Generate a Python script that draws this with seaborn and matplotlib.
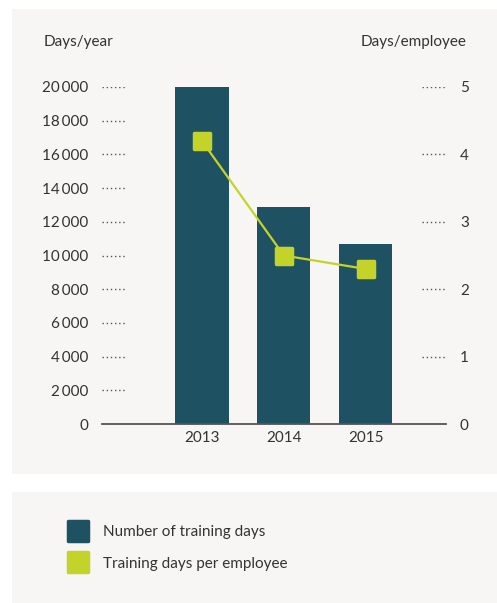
import matplotlib
matplotlib.use("Agg")
import matplotlib.pyplot as plt
from matplotlib.patches import Rectangle
from matplotlib.lines import Line2D
from matplotlib.markers import MarkerStyle
import seaborn as sns

# data
years = ["2013", "2014", "2015"]
training_days = [20000, 12900, 10700]
days_per_employee = [4.2, 2.5, 2.3]
left_ticks = [0, 2000, 4000, 6000, 8000, 10000, 12000, 14000, 16000, 18000, 20000]
right_ticks = [0, 1, 2, 3, 4, 5]
legend_labels = ["Number of training days", "Training days per employee"]

navy = "#1E5262"
lime = "#C3D32A"
panel = "#F7F6F4"
text_c = "#333333"
axis_c = "#555555"

sns.set_theme(style="white")
plt.rcParams["font.family"] = ["Lato", "DejaVu Sans"]

W, H = 497, 603
fig = plt.figure(figsize=(W / 100, H / 100), dpi=100, facecolor="white")


def box(x0, y0, x1, y1):
    # pixel box (top-left origin) -> figure fraction rect
    return [x0 / W, 1 - y1 / H, (x1 - x0) / W, (y1 - y0) / H]


# grey panels behind chart and legend
for x0, y0, x1, y1 in [(12, 9, 500, 474), (12, 492, 500, 606)]:
    r = box(x0, y0, x1, y1)
    fig.patches.append(Rectangle((r[0], r[1]), r[2], r[3], transform=fig.transFigure,
                                 fc=panel, ec="none", zorder=-5))

ax = fig.add_axes(box(102, 87, 446, 424))
ax.set_facecolor("none")
sns.barplot(x=years, y=training_days, color=navy, width=0.65, saturation=1,
            linewidth=0, edgecolor="none", ax=ax)

ax2 = ax.twinx()
sns.pointplot(x=years, y=days_per_employee, color=lime, errorbar=None, ax=ax2)
ln = ax2.lines[0]
ln.set_marker(MarkerStyle("s", joinstyle="round"))
ln.set_markersize(12)
ln.set_markeredgewidth(2.5)
ln.set_markeredgecolor(lime)
ln.set_markerfacecolor(lime)
ln.set_linewidth(1.6)

ax.set_xlim(-1.22, 2.98)
ax.set_ylim(0, 20000)
ax2.set_ylim(0, 5)

ax.set_yticks(left_ticks)
ax.set_yticklabels([f"{v:,}".replace(",", "\u2009") for v in left_ticks])
ax2.set_yticks(right_ticks)
ax2.set_yticklabels([str(v) for v in right_ticks])
ax.tick_params(axis="y", length=0, pad=10, labelsize=11, labelcolor=text_c)
ax2.tick_params(axis="y", length=0, pad=10, labelsize=11, labelcolor=text_c)
ax.tick_params(axis="x", length=0, pad=5, labelsize=11, labelcolor=text_c)
ax.set_xlabel("")
ax.set_ylabel("")
ax2.set_ylabel("")
ax.grid(False)
ax2.grid(False)

for s in ["top", "left", "right"]:
    ax.spines[s].set_visible(False)
for s in ax2.spines.values():
    s.set_visible(False)
ax.spines["bottom"].set_color(axis_c)
ax.spines["bottom"].set_linewidth(1.3)

# dotted tick leaders
for v in left_ticks[1:]:
    ax.axhline(v, xmin=0, xmax=25 / 344, color=axis_c, lw=1, ls=(0, (1, 2)))
for v in right_ticks[1:]:
    ax2.axhline(v, xmin=1 - 24 / 344, xmax=1, color=axis_c, lw=1, ls=(0, (1, 2)))

fig.text(44 / W, 1 - 42 / H, "Days/year", ha="left", va="center", fontsize=11, color=text_c)
fig.text(466 / W, 1 - 42 / H, "Days/employee", ha="right", va="center", fontsize=11, color=text_c)

handles = [Line2D([], [], ls="none", marker=MarkerStyle("s", joinstyle="round"), markersize=14,
                  mfc=c, mec=c, mew=2.5, label=l) for c, l in zip([navy, lime], legend_labels)]
fig.legend(handles=handles, loc="upper left", bbox_to_anchor=(63 / W, 1 - 525 / H),
           frameon=False, fontsize=11, handlelength=2, handletextpad=0.6,
           labelspacing=1.15, borderpad=0, borderaxespad=0, labelcolor=text_c)

fig.savefig("out.png", dpi=100, facecolor="white")
